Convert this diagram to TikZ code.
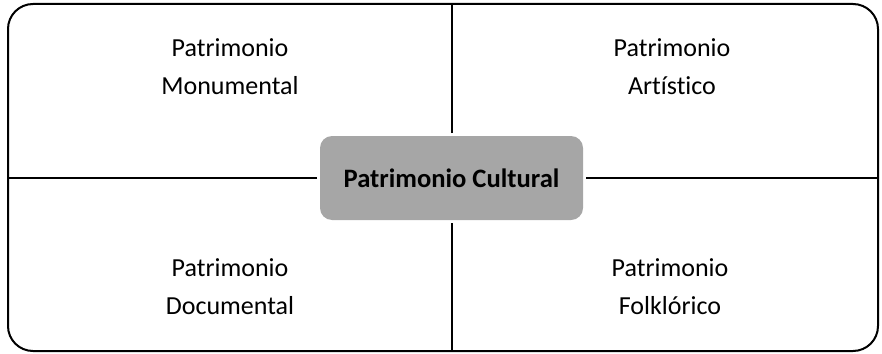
\documentclass[tikz,border=0pt]{standalone}
\usepackage{fontspec}
\setmainfont{Carlito}[Ligatures=NoCommon]
\usepackage{tikz}
\usetikzlibrary{calc}
\definecolor{boxgray}{HTML}{A6A6A6}

\begin{document}
\begin{tikzpicture}[x=1pt, y=-1pt,
    font=\fontsize{26}{38}\selectfont,
    cell/.style={align=center, inner sep=0pt},
    rule/.style={line width=2pt}]
  \useasboundingbox (0,0) rectangle (882,353);
  \node[draw, rule, rounded corners=25pt, minimum width=870pt, minimum height=347pt,
        inner sep=0pt, outer sep=0pt] (frame) at (443,177.5) {};
  \node[fill=boxgray, rounded corners=12pt, minimum width=263pt, minimum height=84pt,
        outer sep=3pt, font={\fontsize{26.6}{38}\selectfont\bfseries}] (pc) at (451.5,178) {Patrimonio Cultural};
  \draw[rule] (pc.north) -- (pc.north |- frame.north);
  \draw[rule] (pc.south) -- (pc.south |- frame.south);
  \draw[rule] (pc.west) -- (pc.west -| frame.west);
  \draw[rule] (pc.east) -- (pc.east -| frame.east);
  \node[cell] (mon) at (230,67) {Patrimonio\\Monumental};
  \node[cell] (art) at (672,67) {Patrimonio\\Artístico};
  \node[cell] (doc) at (230,287) {Patrimonio\\Documental};
  \node[cell] (fol) at (670,287) {Patrimonio\\Folklórico};
\end{tikzpicture}
\end{document}
